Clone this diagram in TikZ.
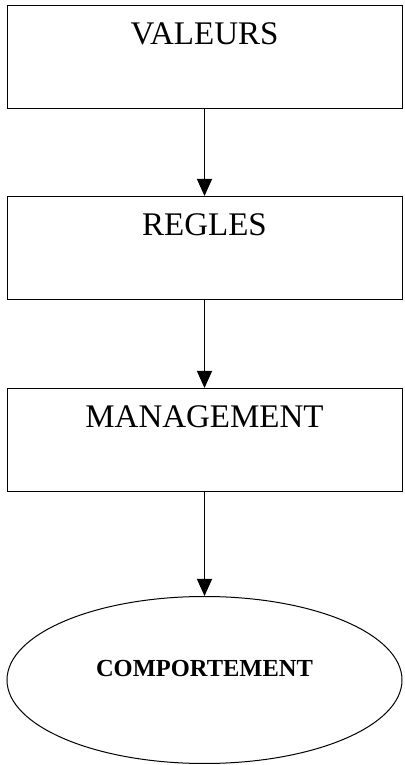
\documentclass[tikz,border=0pt]{standalone}
\usepackage{fontspec}
\setmainfont{Liberation Serif}
\usetikzlibrary{positioning,arrows.meta,shapes.geometric}

\begin{document}
\begin{tikzpicture}[x=1pt,y=1pt,>={Triangle[length=17pt,width=15pt]},
    box/.style={draw,line width=1pt,inner sep=0pt,minimum width=395pt,minimum height=103pt,text height=22pt,text depth=47pt,font=\fontsize{33}{36}\selectfont},
    oval/.style={ellipse,draw,line width=1pt,inner sep=0pt,minimum width=395pt,minimum height=167pt,text height=16pt,text depth=22pt,font=\fontsize{24.5}{28}\selectfont\bfseries}]
    \useasboundingbox (0,0) rectangle (404,765);
    \node[box] (val) at (204.5,708) {VALEURS};
    \node[box,below=87pt of val] (reg) {REGLES};
    \node[box,below=88pt of reg] (man) {MANAGEMENT};
    \node[oval,below=104pt of man] (comp) {COMPORTEMENT};
    \draw[->,line width=1pt] (val)--(reg); \draw[->,line width=1pt] (reg)--(man); \draw[->,line width=1pt] (man)--(comp);
\end{tikzpicture}
\end{document}
